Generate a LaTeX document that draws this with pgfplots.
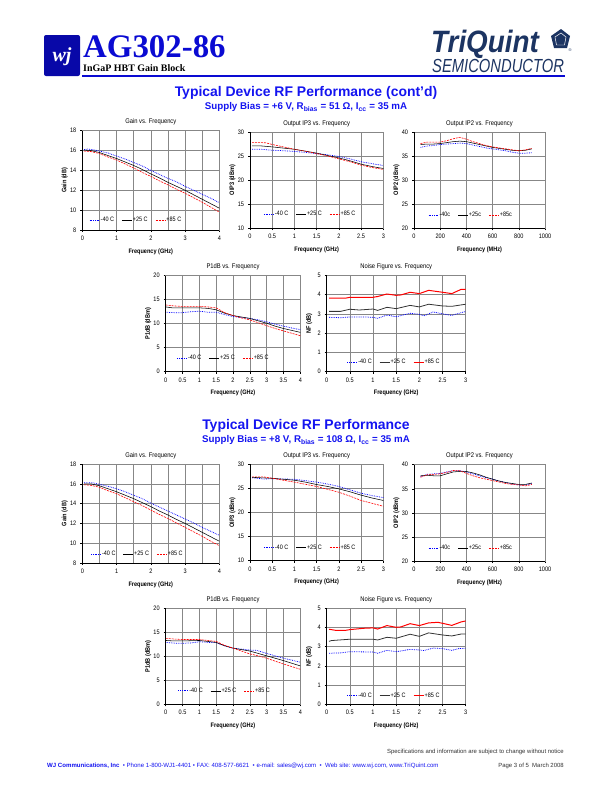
\documentclass[border=0pt]{standalone}
\usepackage{fontspec}
\setmainfont{Liberation Sans}
\newfontfamily\serifhead{Liberation Serif}
\newfontfamily\narrow[FakeStretch=0.86]{Liberation Sans}
\newfontfamily\narrowtq[FakeStretch=0.78]{Liberation Sans}
\newfontfamily\tqbold[FakeStretch=0.9]{Liberation Sans}
\usepackage{pgfplots}
\pgfplotsset{compat=1.18}

\definecolor{hdrblue}{RGB}{10,10,210}
\definecolor{ttlblue}{RGB}{20,20,240}
\definecolor{tqnavy}{RGB}{28,52,98}
\definecolor{gridgray}{RGB}{135,135,135}

\pgfplotsset{
  legend image code/.code={\draw[#1] (0bp,0bp) -- (10bp,0bp);},
  sheet/.style={
    scale only axis, anchor=south west,
    axis line style={draw=gridgray, line width=0.5pt},
    tick align=outside, xtick pos=bottom, ytick pos=left,
    major tick length=2bp,
    tick style={black, line width=0.5pt},
    grid style={gridgray, line width=0.6pt},
    xmajorgrids, ymajorgrids,
    ticklabel style={font=\narrow\fontsize{6.5}{7}\selectfont},
    /pgf/number format/assume math mode=true,
    /pgf/number format/1000 sep={},
    scaled ticks=false,
    xticklabel style={yshift=-0.5bp},
    yticklabel style={xshift=-0.5bp},
    every axis title/.style={at={(rel axis cs:0.5,1)}, anchor=center, yshift=8.5bp,
      font=\narrow\fontsize{6.8}{7}\selectfont},
    every axis y label/.style={at={(rel axis cs:0,0.5)}, xshift=-17.5bp, rotate=90, anchor=center,
      font=\narrow\bfseries\fontsize{6.5}{7}\selectfont},
    every axis x label/.style={at={(rel axis cs:0.5,0)}, anchor=center, yshift=-21.5bp,
      font=\narrow\bfseries\fontsize{6.5}{7}\selectfont},
    legend style={draw=none, fill=none, font=\narrow\fontsize{6.4}{7}\selectfont,
      anchor=west, inner sep=0pt, nodes={inner sep=0.6bp}},
    legend columns=3,
    /tikz/every even column/.append style={column sep=7bp},
    after end axis/.code={\draw[black, line width=0.6pt] (rel axis cs:0,1) -- (rel axis cs:0,0) -- (rel axis cs:1,0);},
  },
  gainax/.style={sheet, xmin=0, xmax=4, ymin=8, ymax=18, xtick={0,1,2,3,4},
    minor xtick={0.5,1.5,2.5,3.5}, xminorgrids, minor grid style={gridgray, line width=0.6pt},
    minor tick length=0pt, ytick={8,10,12,14,16,18},
    title={Gain vs. Frequency}, xlabel={Frequency (GHz)}, ylabel={Gain (dB)}},
  ip3ax/.style={sheet, xmin=0, xmax=3, ymin=10, ymax=30, xtick={0,0.5,...,3}, ytick={10,15,...,30},
    title={Output IP3 vs. Frequency}, xlabel={Frequency (GHz)}, ylabel={OIP3 (dBm)}},
  ip2ax/.style={sheet, xmin=0, xmax=1000, ymin=20, ymax=40, xtick={0,200,...,1000}, ytick={20,25,...,40},
    title={Output IP2 vs. Frequency}, xlabel={Frequency (MHz)}, ylabel={OIP2 (dBm)}},
  p1ax/.style={sheet, xmin=0, xmax=4, ymin=0, ymax=20, xtick={0,0.5,...,4}, ytick={0,5,...,20},
    title={P1dB vs. Frequency}, xlabel={Frequency (GHz)}, ylabel={P1dB (dBm)}},
  nfax/.style={sheet, xmin=0, xmax=3, ymin=0, ymax=5, xtick={0,0.5,...,3}, ytick={0,1,...,5},
    title={Noise Figure vs. Frequency}, xlabel={Frequency (GHz)}, ylabel={NF (dB)}},
  m40/.style={blue, densely dotted, line width=0.75pt},
  p25/.style={black, line width=0.55pt},
  p85/.style={red, dash pattern=on 2pt off 1pt, line width=0.6pt},
  nf40/.style={blue, densely dotted, line width=0.8pt},
  nf25/.style={black!80, line width=0.8pt},
  nf85/.style={red, line width=1pt},
}

\begin{document}
\begin{tikzpicture}
\path[use as bounding box] (0bp,0bp) rectangle (612bp,-792bp);

% ---------- header ----------
\fill[hdrblue!80!black, rounded corners=2bp] (44bp,-35bp) rectangle (80bp,-76bp);
\node[text=white, font=\serifhead\bfseries\itshape\fontsize{20}{20}\selectfont] at (62bp,-57bp) {wj};
\node[anchor=base west, inner sep=0pt, text=hdrblue, font=\serifhead\bfseries\fontsize{33}{33}\selectfont] at (83bp,-57bp) {AG302-86};
\node[anchor=base west, inner sep=0pt, font=\serifhead\bfseries\fontsize{10}{10}\selectfont] at (83bp,-71bp) {InGaP HBT Gain Block};
\draw[hdrblue, line width=1.6pt] (82bp,-76bp) -- (565bp,-76bp);
\node[anchor=base west, inner sep=0pt, text=tqnavy, font=\tqbold\bfseries\itshape\fontsize{31}{31}\selectfont] at (431bp,-52bp) {TriQuint};
\fill[tqnavy] (561bp,-29bp) -- (570bp,-36bp) -- (567bp,-48bp) -- (554bp,-48bp) -- (551bp,-36bp) -- cycle;
\draw[white, line width=0.5pt] (561bp,-33bp) -- (566bp,-37bp) -- (564.5bp,-45bp) -- (556.5bp,-45bp) -- (555bp,-37bp) -- cycle;
\node[text=tqnavy, font=\fontsize{4}{4}\selectfont, inner sep=0pt] at (570bp,-50bp) {®};
\node[anchor=base west, inner sep=0pt, text=tqnavy, font=\narrowtq\itshape\fontsize{19}{19}\selectfont] at (432bp,-72bp) {SEMICONDUCTOR};

% ---------- section titles ----------
\node[text=ttlblue, font=\bfseries\fontsize{14}{14}\selectfont] at (306bp,-93bp) {Typical Device RF Performance (cont’d)};
\node[text=ttlblue, font=\bfseries\fontsize{9.8}{9.8}\selectfont] at (306bp,-107bp) {Supply Bias = +6 V, R\textsubscript{bias} = 51 Ω, I\textsubscript{cc} = 35 mA};
\node[text=ttlblue, font=\bfseries\fontsize{14}{14}\selectfont] at (306bp,-426bp) {Typical Device RF Performance};
\node[text=ttlblue, font=\bfseries\fontsize{9.8}{9.8}\selectfont] at (306bp,-440bp) {Supply Bias = +8 V, R\textsubscript{bias} = 108 Ω, I\textsubscript{cc} = 35 mA};

% ---------- footer ----------
\node[anchor=east, inner sep=0pt, font=\fontsize{6}{6}\selectfont, text=black!80] at (564bp,-751.5bp) {Specifications and information are subject to change without notice};
\node[anchor=west, inner sep=0pt, font=\fontsize{6.1}{6}\selectfont, text=ttlblue] at (47bp,-766bp) {\textbf{WJ Communications, Inc} \ • Phone 1-800-WJ1-4401 • FAX: 408-577-6621 \ • e-mail: sales@wj.com \ • \ Web site: www.wj.com, www.TriQuint.com};
\node[anchor=east, inner sep=0pt, font=\fontsize{6}{6}\selectfont, text=black!80] at (564bp,-766bp) {Page 3 of 5 \ March 2008};

% =============== +6 V section ===============
\begin{axis}[gainax, at={(82.3bp,-230bp)}, width=137bp, height=99.3bp,
  legend style={at={(rel axis cs:0.05,0.1)}}]
\addplot[m40] coordinates {(0.05,16.1)(0.15,16.15)(0.3,16.1)(0.5,15.95)(0.75,15.75)(1,15.45)(1.25,15.15)(1.5,14.8)(1.75,14.45)(2,14.0)(2.25,13.6)(2.5,13.2)(2.75,12.85)(3,12.4)(3.25,12.0)(3.5,11.6)(3.75,11.2)(4,10.75)};
\addplot[p25] coordinates {(0.05,16.05)(0.25,16.0)(0.5,15.8)(0.75,15.5)(1,15.2)(1.25,14.85)(1.5,14.5)(1.75,14.1)(2,13.65)(2.25,13.25)(2.5,12.8)(2.75,12.4)(3,12.0)(3.25,11.55)(3.5,11.1)(3.75,10.65)(4,10.2)};
\addplot[p85] coordinates {(0.05,15.95)(0.25,15.9)(0.5,15.7)(0.75,15.35)(1,15.05)(1.25,14.65)(1.5,14.25)(1.75,13.8)(2,13.4)(2.25,12.95)(2.5,12.55)(2.75,12.1)(3,11.7)(3.25,11.25)(3.5,10.8)(3.75,10.3)(4,9.8)};
\legend{-40 C, +25 C, +85 C}
\end{axis}

\begin{axis}[ip3ax, at={(250bp,-228bp)}, width=133.3bp, height=96bp,
  legend style={at={(rel axis cs:0.1,0.145)}}]
\addplot[m40] coordinates {(0.05,26.4)(0.25,26.4)(0.5,26.2)(0.75,26.1)(1,25.95)(1.25,25.75)(1.5,25.5)(1.75,25.25)(2,24.9)(2.25,24.4)(2.5,23.8)(2.75,23.4)(3,23.0)};
\addplot[p25] coordinates {(0.05,27.1)(0.25,27.1)(0.5,26.9)(0.75,26.65)(1,26.4)(1.25,26.0)(1.5,25.6)(1.75,25.1)(2,24.6)(2.25,24.0)(2.5,23.3)(2.75,22.8)(3,22.4)};
\addplot[p85] coordinates {(0.05,27.8)(0.2,27.8)(0.35,27.75)(0.5,27.4)(0.75,26.9)(1,26.4)(1.25,26.0)(1.5,25.5)(1.75,25.0)(2,24.4)(2.25,23.8)(2.5,23.1)(2.75,22.6)(3,22.2)};
\legend{-40 C, +25 C, +85 C}
\end{axis}

\begin{axis}[ip2ax, at={(414bp,-228.3bp)}, width=131bp, height=96.3bp,
  legend style={at={(rel axis cs:0.107,0.138)}}]
\addplot[m40] coordinates {(50,36.8)(100,37.1)(150,37.2)(200,37.4)(250,37.5)(300,37.6)(350,37.7)(400,37.6)(450,37.3)(500,37.0)(550,36.7)(600,36.5)(650,36.3)(700,36.1)(750,35.8)(800,35.6)(850,35.6)(900,35.7)};
\addplot[p25] coordinates {(50,37.4)(100,37.5)(150,37.5)(200,37.6)(250,37.8)(300,38.0)(350,38.1)(400,38.0)(450,37.7)(500,37.4)(550,37.1)(600,36.8)(650,36.6)(700,36.4)(750,36.2)(800,36.1)(850,36.2)(900,36.5)};
\addplot[p85] coordinates {(50,37.6)(100,37.9)(150,37.9)(200,37.9)(250,38.2)(300,38.6)(350,38.9)(400,38.5)(450,38.0)(500,37.6)(550,37.2)(600,36.9)(650,36.7)(700,36.5)(750,36.3)(800,36.1)(850,36.3)(900,36.6)};
\legend{-40c, +25c, +85c}
\end{axis}

\begin{axis}[p1ax, at={(165.7bp,-371.7bp)}, width=134.6bp, height=96bp,
  legend style={at={(rel axis cs:0.08,0.14)}}]
\addplot[m40] coordinates {(0,12.4)(0.25,12.3)(0.5,12.3)(0.75,12.5)(1,12.6)(1.25,12.4)(1.5,12.4)(1.75,11.9)(2,11.5)(2.25,11.3)(2.5,11.1)(2.75,10.8)(3,10.4)(3.25,9.9)(3.5,9.5)(3.75,9.1)(4,8.75)};
\addplot[p25] coordinates {(0,13.5)(0.2,13.3)(0.5,13.3)(1,13.3)(1.25,13.2)(1.5,12.9)(1.75,12.2)(2,11.7)(2.25,11.4)(2.5,11.1)(2.75,10.6)(3,10.1)(3.25,9.5)(3.5,9.0)(3.75,8.6)(4,8.2)};
\addplot[p85] coordinates {(0,13.9)(0.25,13.7)(0.5,13.6)(1,13.6)(1.25,13.5)(1.5,13.3)(1.75,12.3)(2,11.7)(2.25,11.2)(2.5,10.8)(2.75,10.2)(3,9.6)(3.25,9.0)(3.5,8.5)(3.75,8.0)(4,7.5)};
\legend{-40 C, +25 C, +85 C}
\end{axis}

\begin{axis}[nfax, at={(326.7bp,-371.7bp)}, width=139bp, height=96.4bp,
  legend style={at={(rel axis cs:0.144,0.1)}}]
\addplot[nf40] coordinates {(0.05,2.82)(0.3,2.8)(0.5,2.84)(0.8,2.84)(1.0,2.82)(1.1,2.77)(1.3,2.94)(1.5,2.85)(1.8,3.03)(2.0,2.98)(2.1,2.9)(2.3,3.1)(2.5,3.0)(2.7,2.92)(3.0,3.13)};
\addplot[nf25] coordinates {(0.05,3.13)(0.3,3.13)(0.5,3.24)(0.7,3.2)(1.0,3.25)(1.1,3.18)(1.3,3.34)(1.5,3.27)(1.8,3.44)(2.0,3.36)(2.2,3.5)(2.5,3.41)(2.7,3.39)(3.0,3.5)};
\addplot[nf85] coordinates {(0.05,3.81)(0.4,3.81)(0.5,3.86)(1.0,3.86)(1.1,3.9)(1.3,4.03)(1.5,3.96)(1.6,3.98)(1.8,4.12)(2.0,4.05)(2.2,4.22)(2.5,4.12)(2.7,4.05)(2.9,4.27)(3.0,4.27)};
\legend{-40 C, +25 C, +85 C}
\end{axis}

% =============== +8 V section ===============
\begin{axis}[gainax, at={(82.3bp,-563bp)}, width=137bp, height=99bp,
  legend style={at={(rel axis cs:0.06,0.09)}}]
\addplot[m40] coordinates {(0.05,16.1)(0.15,16.1)(0.3,16.1)(0.5,15.95)(0.75,15.75)(1,15.5)(1.25,15.2)(1.5,14.85)(1.75,14.5)(2,14.05)(2.25,13.65)(2.5,13.25)(2.75,12.85)(3,12.45)(3.25,12.05)(3.5,11.6)(3.75,11.2)(4,10.8)};
\addplot[p25] coordinates {(0.05,16.0)(0.25,16.0)(0.5,15.8)(0.75,15.5)(1,15.2)(1.25,14.85)(1.5,14.5)(1.75,14.1)(2,13.7)(2.25,13.25)(2.5,12.85)(2.75,12.4)(3,12.0)(3.25,11.55)(3.5,11.1)(3.75,10.65)(4,10.2)};
\addplot[p85] coordinates {(0.05,15.9)(0.25,15.85)(0.5,15.65)(0.75,15.3)(1,15.0)(1.25,14.6)(1.5,14.2)(1.75,13.8)(2,13.35)(2.25,12.9)(2.5,12.5)(2.75,12.05)(3,11.6)(3.25,11.15)(3.5,10.7)(3.75,10.2)(4,9.75)};
\legend{-40 C, +25 C, +85 C}
\end{axis}

\begin{axis}[ip3ax, at={(250bp,-560.7bp)}, width=133.3bp, height=96.4bp,
  legend style={at={(rel axis cs:0.1,0.135)}}]
\addplot[m40] coordinates {(0.05,27.2)(0.3,26.95)(0.5,27.0)(0.75,26.95)(1,26.9)(1.25,26.6)(1.5,26.3)(1.75,25.9)(2,25.4)(2.25,24.7)(2.5,24.0)(2.75,23.5)(3,23.1)};
\addplot[p25] coordinates {(0.05,27.3)(0.25,27.2)(0.5,27.1)(0.75,26.9)(1,26.7)(1.25,26.3)(1.5,25.8)(1.75,25.4)(2,24.9)(2.25,24.3)(2.5,23.6)(2.75,23.0)(3,22.5)};
\addplot[p85] coordinates {(0.05,27.4)(0.3,27.4)(0.5,27.1)(0.75,26.7)(1,26.3)(1.25,25.85)(1.5,25.4)(1.75,24.8)(2,24.2)(2.25,23.4)(2.5,22.5)(2.75,21.9)(3,21.3)};
\legend{-40 C, +25 C, +85 C}
\end{axis}

\begin{axis}[ip2ax, at={(414bp,-561bp)}, width=131bp, height=96.3bp,
  legend style={at={(rel axis cs:0.107,0.13)}}]
\addplot[m40] coordinates {(50,37.5)(100,38.0)(150,38.1)(200,38.2)(250,38.5)(300,38.75)(350,38.75)(400,38.5)(450,38.1)(500,37.7)(550,37.3)(600,37.0)(650,36.6)(700,36.3)(750,36.0)(800,35.8)(850,35.8)(900,36.05)};
\addplot[p25] coordinates {(50,37.7)(100,37.8)(150,37.7)(200,37.7)(250,38.1)(300,38.5)(350,38.6)(400,38.6)(450,38.3)(500,37.9)(550,37.4)(600,37.0)(650,36.6)(700,36.3)(750,36.1)(800,35.9)(850,35.9)(900,36.2)};
\addplot[p85] coordinates {(50,37.4)(100,37.9)(150,38.0)(200,38.1)(250,38.4)(300,38.8)(350,38.75)(400,38.2)(450,37.7)(500,37.3)(550,37.0)(600,36.7)(650,36.4)(700,36.1)(750,35.9)(800,35.8)(850,35.6)(900,35.9)};
\legend{-40c, +25c, +85c}
\end{axis}

\begin{axis}[p1ax, at={(165.7bp,-704.3bp)}, width=134.6bp, height=96bp,
  legend style={at={(rel axis cs:0.09,0.14)}}]
\addplot[m40] coordinates {(0,12.9)(0.25,12.75)(0.5,12.7)(0.75,12.8)(1,13.05)(1.25,12.9)(1.5,12.85)(1.75,12.2)(2,11.7)(2.25,11.5)(2.5,11.3)(2.7,11.25)(3,10.6)(3.25,10.1)(3.5,9.6)(3.75,9.2)(4,8.75)};
\addplot[p25] coordinates {(0,13.3)(0.25,13.2)(0.5,13.2)(0.75,13.25)(1,13.3)(1.25,13.1)(1.5,12.9)(1.75,12.2)(2,11.7)(2.25,11.4)(2.5,11.1)(2.75,10.6)(3,10.1)(3.25,9.6)(3.5,9.1)(3.75,8.55)(4,8.0)};
\addplot[p85] coordinates {(0,13.75)(0.25,13.6)(0.5,13.5)(0.75,13.5)(1,13.5)(1.25,13.3)(1.5,13.1)(1.75,12.3)(2,11.7)(2.25,11.1)(2.5,10.5)(2.75,10.1)(3,9.6)(3.25,9.0)(3.5,8.4)(3.75,7.85)(4,7.3)};
\legend{-40 C, +25 C, +85 C}
\end{axis}

\begin{axis}[nfax, at={(326.7bp,-704.3bp)}, width=139bp, height=96bp,
  legend style={at={(rel axis cs:0.144,0.09)}}]
\addplot[nf40] coordinates {(0.05,2.66)(0.3,2.68)(0.5,2.74)(0.8,2.73)(1.0,2.72)(1.1,2.66)(1.3,2.81)(1.5,2.74)(1.8,2.86)(2.0,2.83)(2.1,2.8)(2.3,2.93)(2.5,2.9)(2.7,2.81)(2.85,2.9)(3.0,2.92)};
\addplot[nf25] coordinates {(0.05,3.28)(0.1,3.32)(0.5,3.39)(1.0,3.39)(1.1,3.35)(1.3,3.49)(1.5,3.44)(1.8,3.65)(2.0,3.54)(2.2,3.72)(2.5,3.61)(2.7,3.56)(2.9,3.66)(3.0,3.66)};
\addplot[nf85] coordinates {(0.05,3.91)(0.2,3.85)(0.4,3.85)(0.5,3.89)(0.8,3.96)(1.0,3.98)(1.1,3.92)(1.3,4.1)(1.5,4.01)(1.6,4.03)(1.8,4.2)(2.0,4.1)(2.2,4.24)(2.4,4.27)(2.5,4.22)(2.7,4.11)(2.9,4.29)(3.0,4.34)};
\legend{-40 C, +25 C, +85 C}
\end{axis}
\end{tikzpicture}
\end{document}
